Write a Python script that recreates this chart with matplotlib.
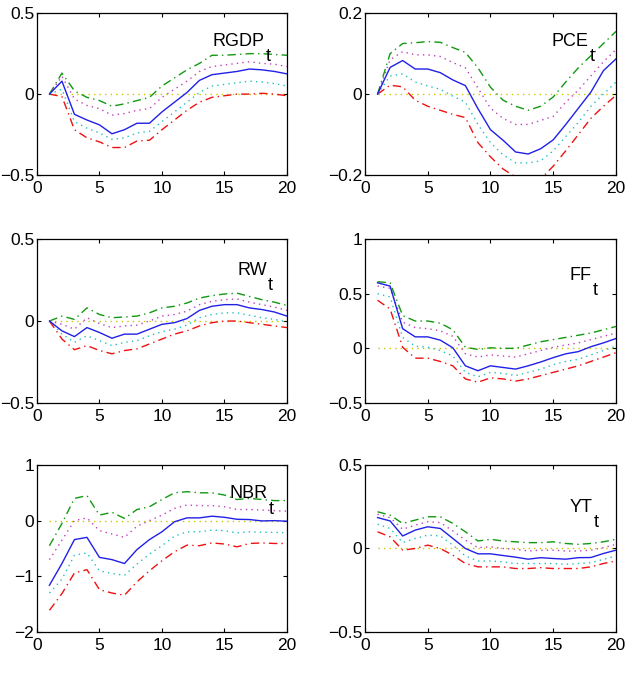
import numpy as np
import matplotlib
matplotlib.use("Agg")
import matplotlib.pyplot as plt

# horizon
h = np.arange(1, 21)

# --- RGDP ---
rgdp_med = [0, 0.08, -0.125, -0.16, -0.19, -0.245, -0.22, -0.18, -0.18, -0.11,
            -0.05, 0.01, 0.085, 0.12, 0.13, 0.14, 0.155, 0.15, 0.14, 0.125]
rgdp_hi = [0, 0.13, 0.02, -0.02, -0.04, -0.075, -0.06, -0.04, -0.02, 0.05,
           0.10, 0.15, 0.19, 0.24, 0.24, 0.245, 0.25, 0.25, 0.245, 0.24]
rgdp_lo = [0, -0.015, -0.22, -0.27, -0.295, -0.33, -0.33, -0.29, -0.285, -0.22,
           -0.16, -0.10, -0.05, -0.02, -0.01, 0.0, 0.0, 0.005, 0.0, -0.01]
rgdp_hi2 = [0, 0.11, -0.03, -0.07, -0.09, -0.13, -0.12, -0.10, -0.09, -0.02,
            0.03, 0.08, 0.14, 0.17, 0.18, 0.19, 0.20, 0.19, 0.185, 0.17]
rgdp_lo2 = [0, 0.03, -0.17, -0.21, -0.24, -0.28, -0.27, -0.24, -0.23, -0.17,
            -0.11, -0.05, 0.01, 0.05, 0.06, 0.07, 0.08, 0.075, 0.065, 0.05]

# --- PCE ---
pce_med = [0, 0.066, 0.083, 0.062, 0.062, 0.053, 0.035, 0.021, -0.036, -0.088,
           -0.114, -0.143, -0.148, -0.135, -0.113, -0.075, -0.035, 0.005, 0.058, 0.087]
pce_hi = [0, 0.10, 0.125, 0.127, 0.13, 0.128, 0.115, 0.103, 0.065, 0.017,
          -0.015, -0.03, -0.04, -0.03, -0.007, 0.03, 0.065, 0.095, 0.125, 0.155]
pce_lo = [0, 0.022, 0.018, -0.015, -0.03, -0.04, -0.05, -0.058, -0.12, -0.155,
          -0.185, -0.205, -0.215, -0.21, -0.178, -0.14, -0.10, -0.06, -0.03, -0.003]
pce_hi2 = [0, 0.085, 0.105, 0.097, 0.097, 0.093, 0.078, 0.065, 0.015, -0.035,
           -0.06, -0.075, -0.075, -0.065, -0.055, -0.02, 0.01, 0.045, 0.08, 0.11]
pce_lo2 = [0, 0.045, 0.05, 0.03, 0.02, 0.012, -0.005, -0.02, -0.075, -0.12,
           -0.15, -0.17, -0.17, -0.165, -0.14, -0.105, -0.07, -0.03, 0.0, 0.03]

# --- RW ---
rw_med = [0, -0.06, -0.095, -0.04, -0.07, -0.105, -0.08, -0.08, -0.05, -0.02,
          -0.01, 0.015, 0.065, 0.09, 0.10, 0.10, 0.08, 0.07, 0.055, 0.03]
rw_hi = [0, 0.03, 0.01, 0.08, 0.04, 0.02, 0.025, 0.03, 0.05, 0.08,
         0.09, 0.11, 0.14, 0.155, 0.165, 0.17, 0.15, 0.13, 0.115, 0.095]
rw_lo = [0, -0.11, -0.175, -0.15, -0.18, -0.20, -0.18, -0.17, -0.14, -0.11,
         -0.08, -0.06, -0.03, -0.01, 0.0, 0.0, -0.01, -0.02, -0.03, -0.04]
rw_hi2 = [0, -0.02, -0.05, 0.02, -0.015, -0.04, -0.03, -0.025, 0.0, 0.03,
          0.04, 0.06, 0.10, 0.12, 0.13, 0.135, 0.115, 0.10, 0.085, 0.065]
rw_lo2 = [0, -0.08, -0.13, -0.09, -0.12, -0.15, -0.13, -0.12, -0.09, -0.065,
          -0.05, -0.025, 0.02, 0.04, 0.05, 0.05, 0.035, 0.02, 0.01, -0.005]

# --- FF ---
ff_med = [0.60, 0.57, 0.18, 0.105, 0.105, 0.075, 0.005, -0.16, -0.205, -0.16,
          -0.175, -0.19, -0.16, -0.125, -0.085, -0.05, -0.03, 0.015, 0.05, 0.09]
ff_hi = [0.61, 0.60, 0.30, 0.25, 0.25, 0.23, 0.17, 0.01, -0.01, 0.005,
         0.0, 0.0, 0.03, 0.06, 0.08, 0.10, 0.12, 0.14, 0.17, 0.20]
ff_lo = [0.44, 0.36, 0.01, -0.09, -0.09, -0.12, -0.16, -0.28, -0.31, -0.27,
         -0.28, -0.30, -0.28, -0.25, -0.22, -0.19, -0.16, -0.12, -0.08, -0.04]
ff_hi2 = [0.57, 0.55, 0.24, 0.19, 0.18, 0.16, 0.11, -0.05, -0.08, -0.06,
          -0.07, -0.08, -0.05, -0.02, 0.01, 0.03, 0.05, 0.08, 0.11, 0.14]
ff_lo2 = [0.50, 0.47, 0.10, 0.02, 0.01, -0.02, -0.07, -0.22, -0.26, -0.22,
          -0.23, -0.25, -0.22, -0.19, -0.15, -0.12, -0.10, -0.06, -0.02, 0.02]

# --- NBR ---
nbr_med = [-1.16, -0.77, -0.34, -0.30, -0.66, -0.70, -0.77, -0.52, -0.34, -0.20,
           -0.02, 0.05, 0.05, 0.08, 0.06, 0.025, 0.02, -0.005, 0.0, -0.01]
nbr_hi = [-0.45, -0.05, 0.40, 0.45, 0.10, 0.15, 0.04, 0.20, 0.25, 0.38,
          0.50, 0.52, 0.50, 0.50, 0.46, 0.38, 0.40, 0.38, 0.36, 0.36]
nbr_lo = [-1.61, -1.31, -0.94, -0.88, -1.24, -1.30, -1.34, -1.10, -0.90, -0.72,
          -0.56, -0.44, -0.45, -0.40, -0.42, -0.47, -0.41, -0.40, -0.41, -0.41]
nbr_hi2 = [-0.70, -0.35, 0.0, 0.05, -0.18, -0.24, -0.30, -0.10, 0.0, 0.10,
           0.22, 0.28, 0.27, 0.27, 0.25, 0.20, 0.20, 0.19, 0.18, 0.17]
nbr_lo2 = [-1.30, -1.05, -0.62, -0.58, -0.90, -0.95, -0.98, -0.78, -0.60, -0.45,
           -0.28, -0.20, -0.20, -0.17, -0.18, -0.22, -0.20, -0.21, -0.21, -0.22]

# --- YT ---
yt_med = [0.185, 0.165, 0.075, 0.11, 0.13, 0.12, 0.06, 0.0, -0.032, -0.032,
          -0.042, -0.052, -0.064, -0.055, -0.06, -0.064, -0.055, -0.054, -0.03, -0.01]
yt_hi = [0.22, 0.20, 0.15, 0.17, 0.19, 0.19, 0.15, 0.10, 0.045, 0.055,
         0.045, 0.04, 0.035, 0.035, 0.04, 0.03, 0.025, 0.03, 0.04, 0.055]
yt_lo = [0.10, 0.07, -0.01, 0.0, 0.02, 0.0, -0.04, -0.09, -0.11, -0.11,
         -0.11, -0.12, -0.12, -0.115, -0.12, -0.12, -0.12, -0.11, -0.09, -0.075]
yt_hi2 = [0.205, 0.185, 0.115, 0.14, 0.16, 0.155, 0.105, 0.05, 0.005, 0.01,
          0.0, -0.005, -0.015, -0.01, -0.01, -0.015, -0.015, -0.01, 0.005, 0.025]
yt_lo2 = [0.145, 0.12, 0.035, 0.06, 0.08, 0.075, 0.02, -0.045, -0.075, -0.075,
          -0.08, -0.09, -0.09, -0.09, -0.09, -0.095, -0.09, -0.085, -0.065, -0.045]

names = ["RGDP", "PCE", "RW", "FF", "NBR", "YT"]
medians = [rgdp_med, pce_med, rw_med, ff_med, nbr_med, yt_med]
uppers = [rgdp_hi, pce_hi, rw_hi, ff_hi, nbr_hi, yt_hi]
lowers = [rgdp_lo, pce_lo, rw_lo, ff_lo, nbr_lo, yt_lo]
uppers2 = [rgdp_hi2, pce_hi2, rw_hi2, ff_hi2, nbr_hi2, yt_hi2]
lowers2 = [rgdp_lo2, pce_lo2, rw_lo2, ff_lo2, nbr_lo2, yt_lo2]
yticks = [[-0.5, 0, 0.5], [-0.2, 0, 0.2], [-0.5, 0, 0.5],
          [-0.5, 0, 0.5, 1], [-2, -1, 0, 1], [-0.5, 0, 0.5]]

plt.rcParams['font.family'] = ['Liberation Sans Narrow', 'Liberation Sans', 'DejaVu Sans']

fig = plt.figure(figsize=(6.37, 6.8), dpi=100)

# axes boxes in figure fractions
lefts = [0.058, 0.573]
widths = [0.3925, 0.394]
bottoms = [0.7426, 0.4074, 0.0706]
heights = [0.238, 0.241, 0.2456]

# where the "t" subscript starts / where the name's baseline sits (axes fraction)
lab_x = [0.912, 0.892, 0.92, 0.904, 0.924, 0.908]
lab_y = [0.80, 0.80, 0.78, 0.75, 0.80, 0.72]

DASHDOT = (0, (6, 3, 1, 3))
DOTTED = (0, (1, 3))


def fmt(v):
    return ("%g" % v).replace("-", "\u2212")


for i, name in enumerate(names):
    r, c = divmod(i, 2)
    ax = fig.add_axes([lefts[c], bottoms[r], widths[c], heights[r]])
    ax.plot(h, np.zeros(len(h)), linestyle=DOTTED, color='#c8c800', lw=1)
    ax.plot(h, uppers[i], linestyle=DASHDOT, color='#119911', lw=1)
    ax.plot(h, lowers[i], linestyle=DASHDOT, color='#ee1111', lw=1)
    ax.plot(h, uppers2[i], linestyle=DOTTED, color='#c040c0', lw=1)
    ax.plot(h, lowers2[i], linestyle=DOTTED, color='#20c0c0', lw=1)
    ax.plot(h, medians[i], '-', color='#2020e8', lw=1)

    ax.set_xlim(0, 20)
    ax.set_ylim(yticks[i][0], yticks[i][-1])
    ax.set_xticks([0, 5, 10, 15, 20])
    ax.set_yticks(yticks[i])
    ax.set_yticklabels([fmt(v) for v in yticks[i]])
    ax.tick_params(direction='in', top=True, right=True, length=3,
                   labelsize=12.5, width=0.8)
    ax.tick_params(axis='y', pad=2)
    ax.tick_params(axis='x', pad=4)
    for sp in ax.spines.values():
        sp.set_linewidth(0.9)

    ax.text(lab_x[i], lab_y[i], name, transform=ax.transAxes,
            ha='right', va='baseline', fontsize=13)
    ax.annotate("t", xy=(lab_x[i], lab_y[i]), xycoords='axes fraction',
                xytext=(0.3, -11), textcoords='offset points',
                ha='left', va='baseline', fontsize=13)

fig.savefig("out.png", dpi=100)
